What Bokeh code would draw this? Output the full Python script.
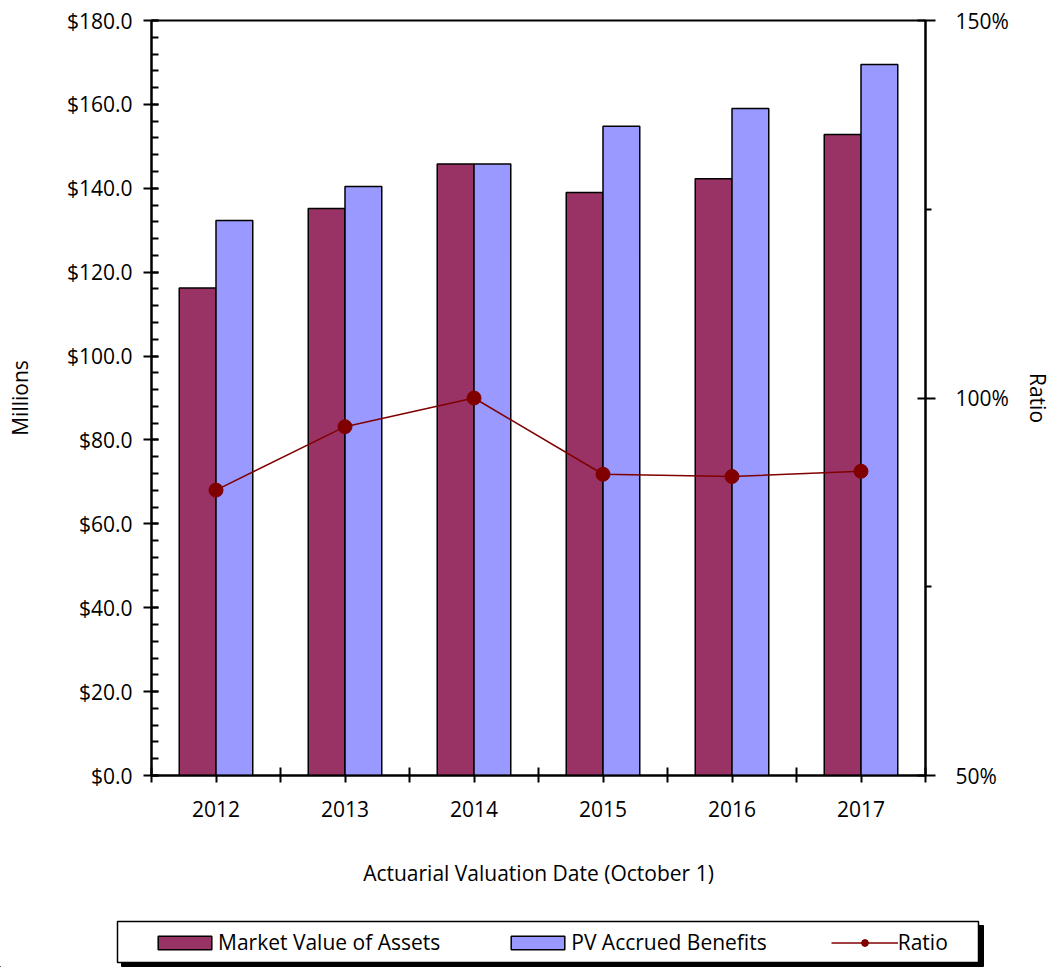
from bokeh.plotting import figure
from bokeh.layouts import column
from bokeh.models import (Range1d, LinearAxis, FixedTicker, PrintfTickFormatter,
                          Legend, LegendItem, BoxAnnotation, ColumnDataSource)
from bokeh.embed import file_html
from bokeh.resources import INLINE

# ---- data ----
years = ["2012", "2013", "2014", "2015", "2016", "2017"]
market_value = [116.2, 135.2, 145.8, 139.0, 142.3, 152.8]   # $ millions
pv_accrued = [132.3, 140.4, 145.8, 154.8, 159.0, 169.5]     # $ millions
ratio_pct = [87.8, 96.2, 100.0, 89.9, 89.6, 90.3]            # %
left_ticks = [0, 20, 40, 60, 80, 100, 120, 140, 160, 180]
right_ticks = [50, 100, 150]
right_minor = [75, 125]
series_names = ["Market Value of Assets", "PV Accrued Benefits", "Ratio"]

FONT = "Open Sans"
FS = "21px"
MVA_COLOR = "#993366"
PVAB_COLOR = "#9999FF"
RATIO_COLOR = "#800000"

idx = list(range(1, len(years) + 1))
bw = 0.285
src = ColumnDataSource(dict(
    x=idx,
    x_mva=[i - bw / 2 for i in idx],
    x_pv=[i + bw / 2 for i in idx],
    mva=market_value,
    pv=pv_accrued,
    ratio=ratio_pct,
))

W = 1054
H1 = 900
H2 = 67
p = figure(width=W, height=H1, output_backend="svg", toolbar_location=None,
           x_range=Range1d(0.5, len(years) + 0.5), y_range=Range1d(0, 180),
           min_border_left=151, min_border_right=W - 927,
           min_border_top=20, min_border_bottom=H1 - 775)
p.background_fill_color = "white"
p.border_fill_color = "white"
p.outline_line_color = "black"
p.outline_line_width = 2
p.xgrid.visible = False
p.ygrid.visible = False
p.extra_y_ranges = {"ratio": Range1d(50, 150)}

bar_mva = dict(fill_color=MVA_COLOR, line_color="black", line_width=1.5)
bar_pv = dict(fill_color=PVAB_COLOR, line_color="black", line_width=1.5)
line_kw = dict(line_color=RATIO_COLOR, line_width=1.5)
pt_kw = dict(size=14, fill_color=RATIO_COLOR, line_color=RATIO_COLOR)

p.vbar(x="x_mva", top="mva", width=bw, source=src, **bar_mva)
p.vbar(x="x_pv", top="pv", width=bw, source=src, **bar_pv)
p.line(x="x", y="ratio", source=src, y_range_name="ratio", **line_kw)
p.scatter(x="x", y="ratio", source=src, y_range_name="ratio", **pt_kw)

# x axis
xa = p.xaxis[0]
xa.ticker = FixedTicker(ticks=idx, minor_ticks=[i + 0.5 for i in range(0, len(years) + 1)])
xa.major_label_overrides = {i: y for i, y in zip(idx, years)}
xa.axis_label = "Actuarial Valuation Date (October 1)"
xa.major_tick_in = 0
xa.major_tick_out = 7
xa.minor_tick_in = 8
xa.minor_tick_out = 7
xa.major_label_standoff = 18
xa.axis_label_standoff = 39

# left y axis
ya = p.yaxis[0]
ya.ticker = FixedTicker(ticks=left_ticks, minor_ticks=list(range(0, 181, 4)))
ya.formatter = PrintfTickFormatter(format="$%.1f")
ya.axis_label = "Millions"
ya.major_tick_in = 7
ya.major_tick_out = 8
ya.minor_tick_in = 7
ya.minor_tick_out = 0
ya.major_label_standoff = 11
ya.axis_label_standoff = 30

# right y axis
ra = LinearAxis(y_range_name="ratio", axis_label="Ratio")
ra.ticker = FixedTicker(ticks=right_ticks, minor_ticks=right_minor)
ra.formatter = PrintfTickFormatter(format="%d%%")
ra.major_tick_in = 8
ra.major_tick_out = 10
ra.minor_tick_in = 0
ra.minor_tick_out = 6
ra.major_label_standoff = 20
ra.axis_label_standoff = 12
p.add_layout(ra, "right")

for ax in [xa, ya, ra]:
    ax.axis_line_color = "black"
    ax.axis_line_width = 2
    ax.major_tick_line_color = "black"
    ax.major_tick_line_width = 2
    ax.minor_tick_line_color = "black"
    ax.minor_tick_line_width = 2
    ax.major_label_text_font = FONT
    ax.major_label_text_font_size = FS
    ax.major_label_text_color = "black"
    ax.axis_label_text_font = FONT
    ax.axis_label_text_font_size = FS
    ax.axis_label_text_font_style = "normal"
    ax.axis_label_text_color = "black"

# ---- legend strip (separate small figure below; data kept out of its view) ----
lg = figure(width=W, height=H2, output_backend="svg", toolbar_location=None,
            x_range=Range1d(100, 101), y_range=Range1d(1000, 1001),
            x_axis_location=None, y_axis_location=None,
            min_border_left=0, min_border_right=0, min_border_top=0, min_border_bottom=0)
for fig in (p, lg):
    try:
        fig.frame_align = False
    except Exception:
        pass
lg.outline_line_color = None
lg.xgrid.visible = False
lg.ygrid.visible = False
lg.background_fill_color = "white"
lg.border_fill_color = "white"

l_mva = lg.vbar(x="x_mva", top="mva", width=bw, source=src, **bar_mva)
l_pv = lg.vbar(x="x_pv", top="pv", width=bw, source=src, **bar_pv)
l_line = lg.line(x="x", y="ratio", source=src, **line_kw)
l_pts = lg.scatter(x="x", y="ratio", source=src, **pt_kw)

scr = dict(left_units="screen", right_units="screen",
           top_units="screen", bottom_units="screen")
shadow = BoxAnnotation(left=121, right=983, top=42, bottom=1,
                       fill_color="black", fill_alpha=1.0, line_color="black",
                       line_alpha=1.0, **scr)
box = BoxAnnotation(left=117, right=978, top=46, bottom=5,
                    fill_color="white", fill_alpha=1.0, line_color="black",
                    line_width=1.5, line_alpha=1.0, **scr)
lg.add_layout(shadow)
lg.add_layout(box)

legend = Legend(items=[
    LegendItem(label=series_names[0], renderers=[l_mva]),
    LegendItem(label=series_names[1], renderers=[l_pv]),
    LegendItem(label=series_names[2], renderers=[l_line, l_pts]),
], orientation="horizontal", location=(146, 6))
legend.padding = 5
legend.spacing = 64
legend.glyph_width = 67
legend.glyph_height = 17
legend.label_standoff = 0
legend.label_width = 79
legend.label_height = 24
legend.label_text_font = FONT
legend.label_text_font_size = FS
legend.label_text_color = "black"
legend.background_fill_alpha = 0
legend.border_line_alpha = 0
lg.add_layout(legend, "center")

layout = column(p, lg, spacing=0)
open("out.html", "w").write(file_html(layout, INLINE))
